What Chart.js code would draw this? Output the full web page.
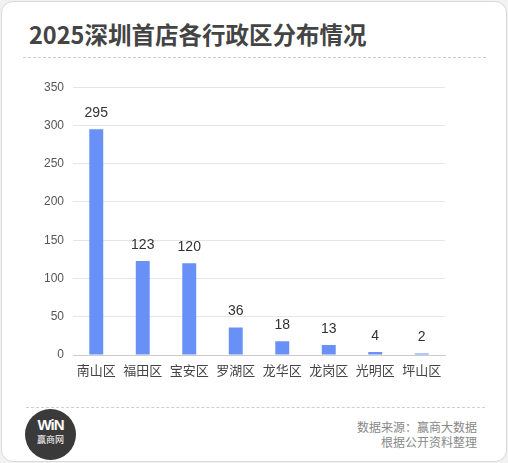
<!DOCTYPE html>
<html>
<head>
<meta charset="utf-8">
<script src="https://cdn.jsdelivr.net/npm/chart.js@4"></script>
<style>
    html, body { margin: 0; padding: 0; background: #f2f2f2; }
    body { width: 508px; height: 463px; position: relative; overflow: hidden; font-family: "Noto Sans CJK SC", "Liberation Sans", sans-serif; }
    .card { position: absolute; left: 1px; top: 1px; width: 504px; height: 459px; background: #fff; border: 1px solid #d9d9d9; border-radius: 12px; }
    .title { position: absolute; left: 29px; top: 19px; font-size: 23.5px; font-weight: bold; color: #444; line-height: 30px; white-space: nowrap; }
    .rule { position: absolute; border-top: 1px dashed #cfcfcf; }
    .chart-box { position: absolute; left: 20px; top: 71px; width: 440px; height: 315px; }
    .logo { position: absolute; left: 25px; top: 409px; width: 51px; height: 51px; border-radius: 50%; background: #3a3a3a; color: #fff; text-align: center; }
    .logo .win { position: absolute; left: 0; right: 0; top: 8px; font: bold 15px "Liberation Sans", sans-serif; letter-spacing: -1px; line-height: 15px; }
    .logo .cn { position: absolute; left: 0; right: 0; top: 25px; font-size: 9px; line-height: 12px; }
    .source { position: absolute; right: 31px; top: 419px; text-align: right; font-size: 12px; line-height: 15px; color: #888; }
</style>
</head>
<body>
<div class="card"></div>
<div class="title">2025深圳首店各行政区分布情况</div>
<div class="rule" style="left:23px; top:57px; width:463px;"></div>
<div class="chart-box"><canvas id="storeChart"></canvas></div>
<div class="rule" style="left:26px; top:407px; width:459px;"></div>
<div class="logo"><div class="win">WiN</div><div class="cn">赢商网</div></div>
<div class="source">数据来源：赢商大数据<br>根据公开资料整理</div>

<script>
// 各行政区首店数量
const districts = ['南山区', '福田区', '宝安区', '罗湖区', '龙华区', '龙岗区', '光明区', '坪山区'];
const storeCounts = [295, 123, 120, 36, 18, 13, 4, 2];
const yTicks = [0, 50, 100, 150, 200, 250, 300, 350];

// draw the value above each bar
const valueLabels = {
    id: 'valueLabels',
    afterDatasetsDraw(chart) {
        const ctx = chart.ctx;
        const meta = chart.getDatasetMeta(0);
        ctx.save();
        ctx.font = '14px "Liberation Sans", Arial, sans-serif';
        ctx.fillStyle = '#333';
        ctx.textAlign = 'center';
        ctx.textBaseline = 'middle';
        meta.data.forEach((bar, i) => {
            ctx.fillText(String(storeCounts[i]), bar.x, bar.y - 16);
        });
        ctx.restore();
    }
};

const ctx = document.getElementById('storeChart');
new Chart(ctx, {
    type: 'bar',
    data: {
        labels: districts,
        datasets: [{
            data: storeCounts,
            backgroundColor: '#6890f7',
            barPercentage: 0.6,
            categoryPercentage: 0.5
        }]
    },
    options: {
        responsive: true,
        maintainAspectRatio: false,
        animation: false,
        layout: { padding: { top: 4, right: 15, left: 0, bottom: 0 } },
        plugins: {
            legend: { display: false },
            tooltip: { enabled: false }
        },
        scales: {
            x: {
                grid: { display: false, drawTicks: false },
                border: { display: true, color: '#cccccc' },
                ticks: {
                    color: '#444',
                    padding: 7,
                    maxRotation: 0,
                    font: { family: '"Noto Sans CJK SC", sans-serif', size: 13 }
                },
                afterFit(scale) { scale.height = 31; }
            },
            y: {
                min: 0,
                max: 350,
                afterBuildTicks(scale) { scale.ticks = yTicks.map(v => ({ value: v })); },
                grid: {
                    drawTicks: false,
                    color: c => (c.tick && c.tick.value === 0 ? '#cccccc' : '#e6e6e6')
                },
                border: { display: false },
                ticks: {
                    color: '#555',
                    padding: 9,
                    font: { family: '"Liberation Sans", Arial, sans-serif', size: 12 }
                },
                afterFit(scale) { scale.width = 53; }
            }
        }
    },
    plugins: [valueLabels]
});
</script>
</body>
</html>
